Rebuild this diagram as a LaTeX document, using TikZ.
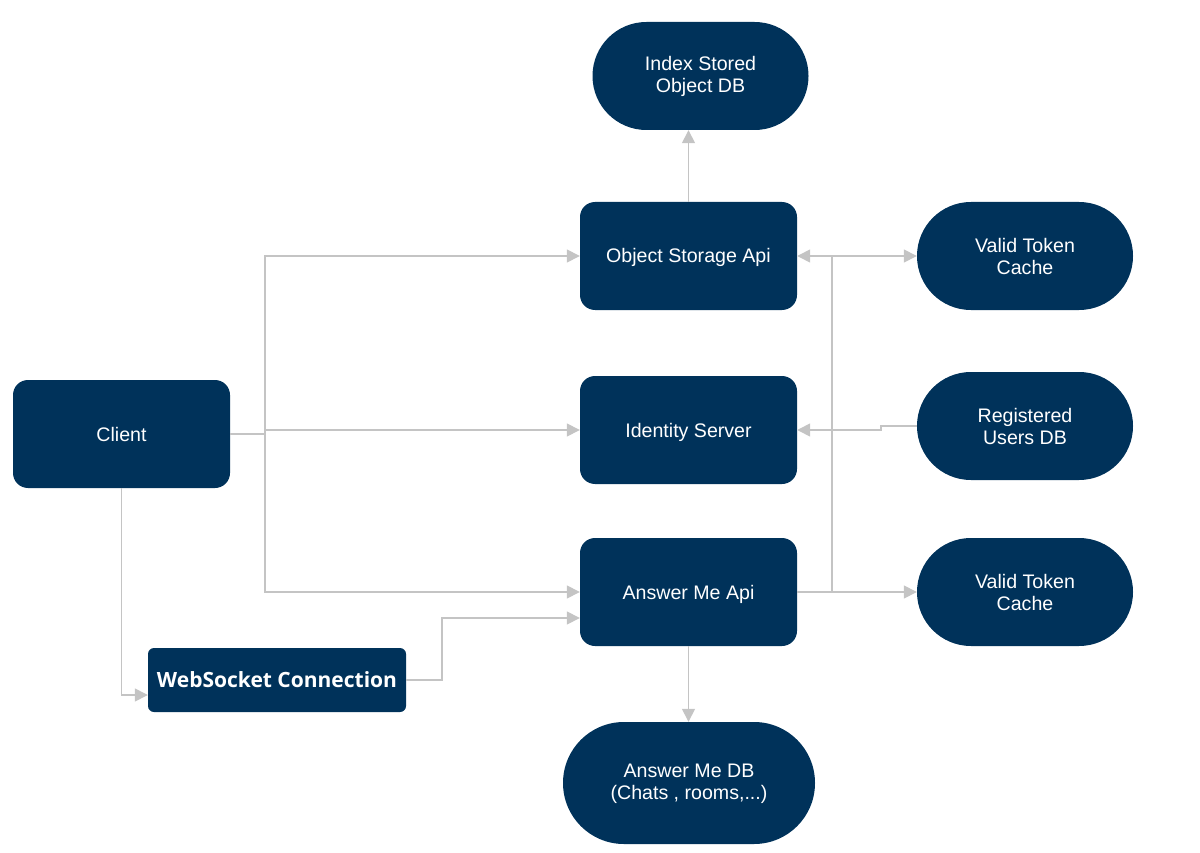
\documentclass[tikz,border=0pt]{standalone}
\usepackage{fontspec}
\setmainfont{Liberation Sans}
\newfontfamily\wsfont{Open Sans}
\usetikzlibrary{arrows.meta}
\definecolor{navy}{HTML}{00325A}
\definecolor{conn}{HTML}{C4C4C4}
\newcommand{\nstrut}{\rule[-4.5pt]{0pt}{23pt}}
\begin{document}
\begin{tikzpicture}[x=1pt,y=-1pt,
  box/.style={draw=none,fill=navy,text=white,rounded corners=15pt,minimum width=217pt,minimum height=108pt,inner sep=0pt,align=center,font=\fontsize{19.6}{22}\selectfont},
  pill/.style={box,rounded corners=53.9pt,minimum width=216pt},
  line/.style={draw=conn,line width=1.5pt},
  arr/.style={line,-{Triangle[length=13pt,width=13pt]}}]
\useasboundingbox (0,0) rectangle (1200,853);
\node[pill] (idx) at (700.5,76) {\rule{0pt}{16pt}Index Stored\\Object DB};
\node[box] (osa) at (688.5,256) {\nstrut Object Storage Api};
\node[pill] (vtc1) at (1025,256) {Valid Token\\Cache};
\node[box] (client) at (121.5,434) {\nstrut Client};
\node[box] (ids) at (688.5,430) {\nstrut Identity Server};
\node[pill] (reg) at (1025,426) {Registered\\Users DB};
\node[box] (ama) at (688.5,592) {\nstrut Answer Me Api};
\node[pill] (vtc2) at (1025,592) {Valid Token\\Cache};
\node[box,rounded corners=6pt,minimum width=258pt,minimum height=64pt,font=\wsfont\bfseries\fontsize{21}{22}\selectfont] (ws) at (277,680) {WebSocket Connection};
\node[pill,minimum width=252pt,minimum height=122pt,rounded corners=60.9pt] (amdb) at (689,783) {\rule{0pt}{16pt}Answer Me DB\\(Chats , rooms,...)};
% connectors
\coordinate (cj) at (265,434);
\draw[line] (client.east) -- (cj);
\draw[arr] (cj) |- (osa.west);
\draw[arr] (cj) |- (ids.west);
\draw[arr] (cj) |- (ama.west);
\draw[arr] (client.south) |- ([yshift=-15pt]ws.west);
\coordinate (wj) at (442,680);
\draw[arr] (ws.east) -- (wj) |- ([yshift=-26pt]ama.west);
\draw[arr] (osa.north) -- (osa.north |- idx.south);
\draw[arr] (ama.south) -- (ama.south |- amdb.north);
\coordinate (rj) at (832,592);
\coordinate (tj) at (832,256);
\draw[arr] (ama.east) -- (vtc2.west);
\draw[line] (rj) -- (tj);
\draw[arr] (tj) -- (osa.east);
\draw[arr] (tj) -- (vtc1.west);
\coordinate (gj) at (881,426);
\draw[arr] (reg.west) -- (gj) -- (881,430) -- (ids.east);
\end{tikzpicture}
\end{document}
